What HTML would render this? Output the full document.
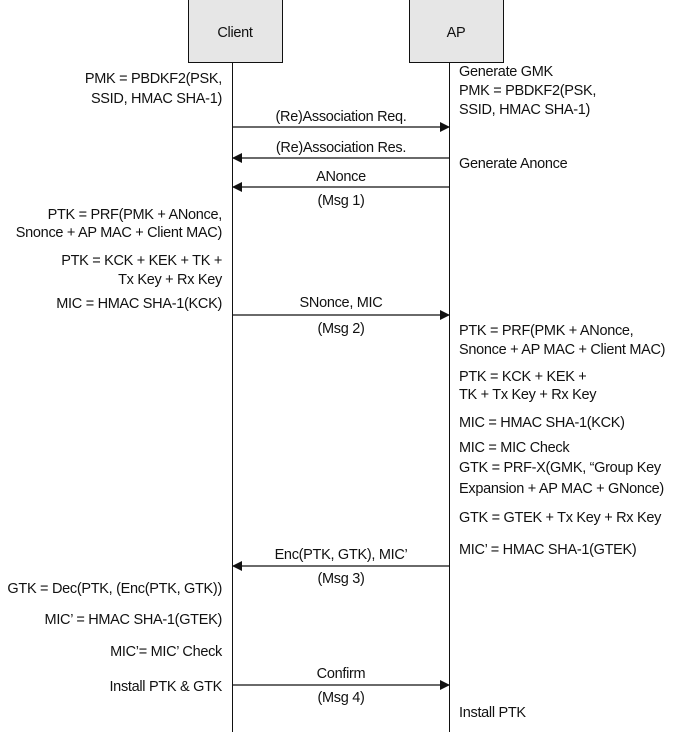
<!DOCTYPE html>
<html><head><meta charset="utf-8"><style>
html,body{margin:0;padding:0;background:#fff}
svg{display:block}
text{font-family:"Liberation Sans",sans-serif;font-size:14.5px;letter-spacing:-0.3px;fill:#111}
.r{text-anchor:end}.m{text-anchor:middle}
</style></head><body>
<svg width="683" height="732" viewBox="0 0 683 732" xmlns="http://www.w3.org/2000/svg">
<defs><marker id="a" markerWidth="10" markerHeight="10" refX="9" refY="5" orient="auto" markerUnits="userSpaceOnUse"><path d="M0,0 L10,5 L0,10 Z" fill="#111"/></marker></defs>
<rect x="188.5" y="-1" width="94" height="63.5" fill="#e6e6e6" stroke="#111"/>
<rect x="409.5" y="-1" width="94" height="63.5" fill="#e6e6e6" stroke="#111"/>
<text class="m" x="235" y="37">Client</text>
<text class="m" x="456" y="37">AP</text>
<line x1="232.5" y1="63" x2="232.5" y2="732" stroke="#111"/>
<line x1="449.5" y1="63" x2="449.5" y2="732" stroke="#111"/>
<g stroke="#111" stroke-width="1.2">
<line x1="233" y1="127" x2="449" y2="127" marker-end="url(#a)"/>
<line x1="449" y1="158" x2="233" y2="158" marker-end="url(#a)"/>
<line x1="449" y1="187" x2="233" y2="187" marker-end="url(#a)"/>
<line x1="233" y1="315" x2="449" y2="315" marker-end="url(#a)"/>
<line x1="449" y1="566" x2="233" y2="566" marker-end="url(#a)"/>
<line x1="233" y1="685" x2="449" y2="685" marker-end="url(#a)"/>
</g>
<text class="m" x="341" y="121">(Re)Association Req.</text>
<text class="m" x="341" y="152">(Re)Association Res.</text>
<text class="m" x="341" y="181">ANonce</text>
<text class="m" x="341" y="205">(Msg 1)</text>
<text class="m" x="341" y="307">SNonce, MIC</text>
<text class="m" x="341" y="333">(Msg 2)</text>
<text class="m" x="341" y="559">Enc(PTK, GTK), MIC’</text>
<text class="m" x="341" y="583">(Msg 3)</text>
<text class="m" x="341" y="678">Confirm</text>
<text class="m" x="341" y="702">(Msg 4)</text>
<text class="r" x="222" y="83">PMK = PBDKF2(PSK,</text>
<text class="r" x="222" y="103">SSID, HMAC SHA-1)</text>
<text class="r" x="222" y="219">PTK = PRF(PMK + ANonce,</text>
<text class="r" x="222" y="237">Snonce + AP MAC + Client MAC)</text>
<text class="r" x="222" y="265">PTK = KCK + KEK + TK +</text>
<text class="r" x="222" y="284">Tx Key + Rx Key</text>
<text class="r" x="222" y="308">MIC = HMAC SHA-1(KCK)</text>
<text class="r" x="222" y="593">GTK = Dec(PTK, (Enc(PTK, GTK))</text>
<text class="r" x="222" y="624">MIC’ = HMAC SHA-1(GTEK)</text>
<text class="r" x="222" y="656">MIC’= MIC’ Check</text>
<text class="r" x="222" y="691">Install PTK &amp; GTK</text>
<text x="459" y="76">Generate GMK</text>
<text x="459" y="95">PMK = PBDKF2(PSK,</text>
<text x="459" y="114">SSID, HMAC SHA-1)</text>
<text x="459" y="168">Generate Anonce</text>
<text x="459" y="335">PTK = PRF(PMK + ANonce,</text>
<text x="459" y="354">Snonce + AP MAC + Client MAC)</text>
<text x="459" y="381">PTK = KCK + KEK +</text>
<text x="459" y="399">TK + Tx Key + Rx Key</text>
<text x="459" y="427">MIC = HMAC SHA-1(KCK)</text>
<text x="459" y="452">MIC = MIC Check</text>
<text x="459" y="472">GTK = PRF-X(GMK, “Group Key</text>
<text x="459" y="493">Expansion + AP MAC + GNonce)</text>
<text x="459" y="522">GTK = GTEK + Tx Key + Rx Key</text>
<text x="459" y="554">MIC’ = HMAC SHA-1(GTEK)</text>
<text x="459" y="717">Install PTK</text>
</svg>
</body></html>
